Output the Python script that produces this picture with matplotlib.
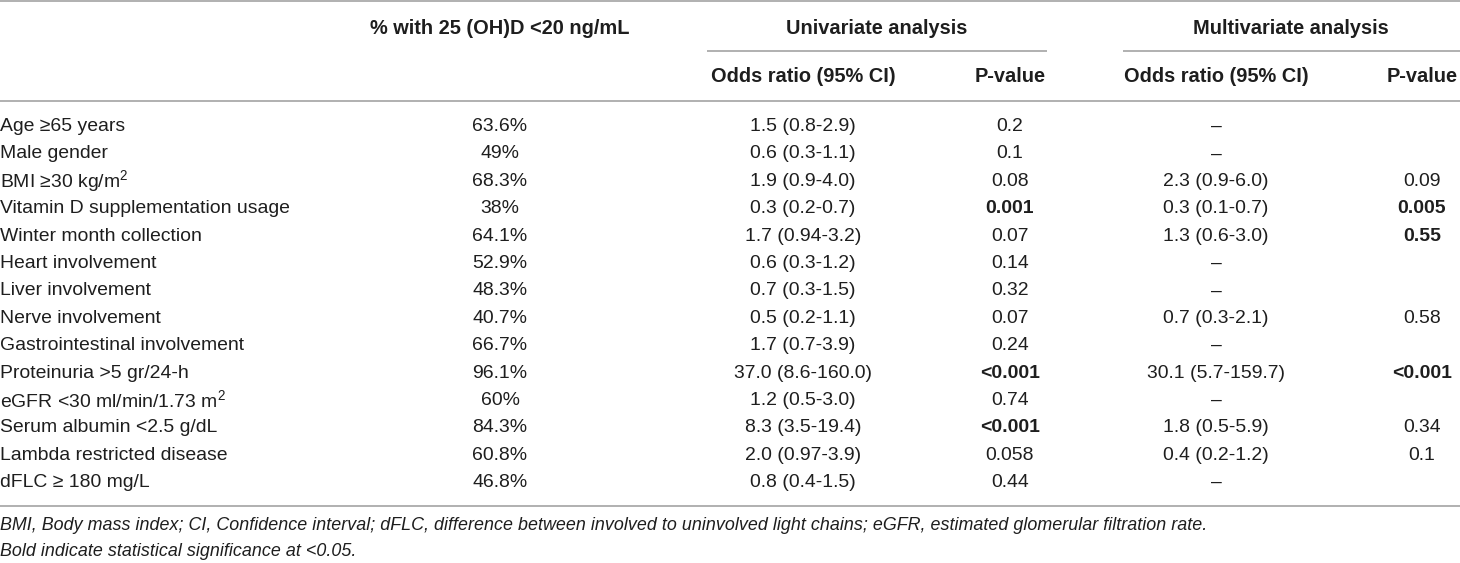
import matplotlib
matplotlib.use("Agg")
import matplotlib.pyplot as plt

plt.rcParams['font.family'] = ['Liberation Sans', 'DejaVu Sans']
plt.rcParams['mathtext.fontset'] = 'custom'
plt.rcParams['mathtext.rm'] = 'Liberation Sans'
plt.rcParams['mathtext.it'] = 'Liberation Sans:italic'
plt.rcParams['mathtext.bf'] = 'Liberation Sans:bold'

variables = ["Age ≥65 years", "Male gender", "BMI ≥30 kg/m$^2$", "Vitamin D supplementation usage",
             "Winter month collection", "Heart involvement", "Liver involvement", "Nerve involvement",
             "Gastrointestinal involvement", "Proteinuria >5 gr/24-h", "eGFR <30 ml/min/1.73 m$^2$",
             "Serum albumin <2.5 g/dL", "Lambda restricted disease", "dFLC ≥ 180 mg/L"]
pct_low_vitd = ["63.6%", "49%", "68.3%", "38%", "64.1%", "52.9%", "48.3%", "40.7%", "66.7%",
                "96.1%", "60%", "84.3%", "60.8%", "46.8%"]
uni_or = ["1.5 (0.8-2.9)", "0.6 (0.3-1.1)", "1.9 (0.9-4.0)", "0.3 (0.2-0.7)", "1.7 (0.94-3.2)",
          "0.6 (0.3-1.2)", "0.7 (0.3-1.5)", "0.5 (0.2-1.1)", "1.7 (0.7-3.9)", "37.0 (8.6-160.0)",
          "1.2 (0.5-3.0)", "8.3 (3.5-19.4)", "2.0 (0.97-3.9)", "0.8 (0.4-1.5)"]
uni_p = ["0.2", "0.1", "0.08", "0.001", "0.07", "0.14", "0.32", "0.07", "0.24", "<0.001",
         "0.74", "<0.001", "0.058", "0.44"]
uni_p_bold = [False, False, False, True, False, False, False, False, False, True,
              False, True, False, False]
multi_or = ["–", "–", "2.3 (0.9-6.0)", "0.3 (0.1-0.7)", "1.3 (0.6-3.0)", "–", "–", "0.7 (0.3-2.1)",
            "–", "30.1 (5.7-159.7)", "–", "1.8 (0.5-5.9)", "0.4 (0.2-1.2)", "–"]
multi_p = ["", "", "0.09", "0.005", "0.55", "", "", "0.58", "", "<0.001", "", "0.34", "0.1", ""]
multi_p_bold = [False, False, False, True, True, False, False, False, False, True,
                False, False, False, False]
header_top = ["% with 25 (OH)D <20 ng/mL", "Univariate analysis", "Multivariate analysis"]
header_sub = ["Odds ratio (95% CI)", "P-value", "Odds ratio (95% CI)", "P-value"]
footnotes = ["BMI, Body mass index; CI, Confidence interval; dFLC, difference between involved to uninvolved light chains; eGFR, estimated glomerular filtration rate.",
             "Bold indicate statistical significance at <0.05."]

W, H = 1460, 563
fig = plt.figure(figsize=(W / 100, H / 100), dpi=100)
ax = fig.add_axes([0, 0, 1, 1])
ax.set_xlim(0, W)
ax.set_ylim(H, 0)
ax.axis('off')
renderer = fig.canvas.get_renderer()


def fit_size(s, target_px, **kw):
    t = fig.text(0, 0, s, fontsize=10, **kw)
    w = t.get_window_extent(renderer=renderer).width
    t.remove()
    return 10 * target_px / w


FS = fit_size(variables[3], 289)
FS_HEAD = fit_size(header_sub[0], 185, fontweight='bold')
FS_FOOT = fit_size(footnotes[0], 1208, style='italic')

TXT = '#1e1e1e'
LINE = '#a3a3a3'


def hline(y, x0, x1):
    ax.plot([x0, x1], [y, y], color=LINE, lw=1.2, solid_capstyle='butt')


hline(1, 0, W)
hline(51, 707, 1047)
hline(51, 1123, W)
hline(100.5, 0, W)
hline(506, 0, W)

col_x = [500, 803, 1010, 1216, 1422]
ax.text(col_x[0], 28, header_top[0], ha='center', va='center', fontsize=FS_HEAD, fontweight='bold', color=TXT)
ax.text(877, 28, header_top[1], ha='center', va='center', fontsize=FS_HEAD, fontweight='bold', color=TXT)
ax.text(1291, 28, header_top[2], ha='center', va='center', fontsize=FS_HEAD, fontweight='bold', color=TXT)
for x, s in zip(col_x[1:], header_sub):
    ax.text(x, 76, s, ha='center', va='center', fontsize=FS_HEAD, fontweight='bold', color=TXT)

y0, dy = 126.5, 27.4
for i in range(len(variables)):
    y = y0 + i * dy
    ax.text(0, y, variables[i], ha='left', va='center', fontsize=FS, color=TXT)
    ax.text(col_x[0], y, pct_low_vitd[i], ha='center', va='center', fontsize=FS, color=TXT)
    ax.text(col_x[1], y, uni_or[i], ha='center', va='center', fontsize=FS, color=TXT)
    ax.text(col_x[2], y, uni_p[i], ha='center', va='center', fontsize=FS, color=TXT,
            fontweight='bold' if uni_p_bold[i] else 'normal')
    ax.text(col_x[3], y, multi_or[i], ha='center', va='center', fontsize=FS, color=TXT)
    if multi_p[i]:
        ax.text(col_x[4], y, multi_p[i], ha='center', va='center', fontsize=FS, color=TXT,
                fontweight='bold' if multi_p_bold[i] else 'normal')

ax.text(0, 526, footnotes[0], ha='left', va='center', fontsize=FS_FOOT, style='italic', color=TXT)
ax.text(0, 551, footnotes[1], ha='left', va='center', fontsize=FS_FOOT, style='italic', color=TXT)

fig.savefig('out.png', dpi=100)
